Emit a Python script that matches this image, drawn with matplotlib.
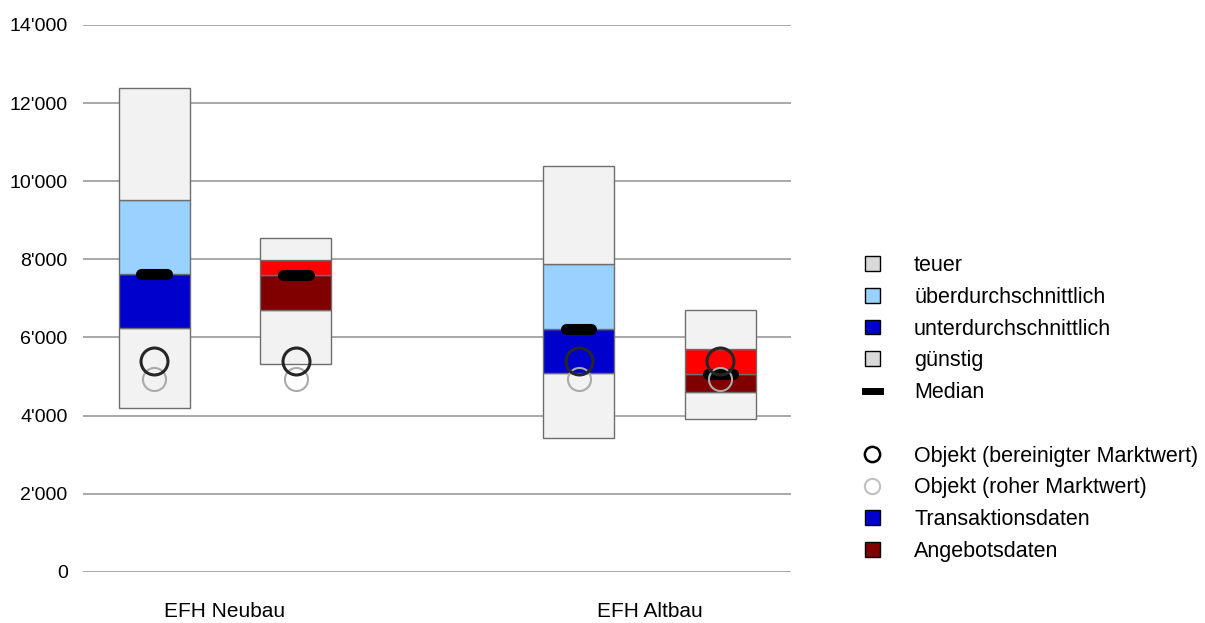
import matplotlib
matplotlib.use("Agg")
import matplotlib.pyplot as plt
from matplotlib.patches import Patch
from matplotlib.lines import Line2D
from matplotlib.ticker import FuncFormatter

plt.rcParams['font.family'] = ['Liberation Sans', 'DejaVu Sans']

categories = ["EFH Neubau", "EFH Altbau"]
# band limits: [günstig low, günstig/unter, unter/über, über/teuer, teuer top]
trans_bounds = [[4190, 6240, 7620, 9520, 12380],
                [3430, 5090, 6210, 7880, 10400]]
offer_bounds = [[5320, 6690, 7600, 7980, 8550],
                [3920, 4600, 5060, 5700, 6690]]
trans_median = [7620, 6210]
offer_median = [7590, 5060]
obj_adjusted = [5400, 5400]
obj_raw = [4930, 4930]

trans_colors = ["#f2f2f2", "#0000cc", "#99d1ff", "#f2f2f2"]
offer_colors = ["#f2f2f2", "#800000", "#ff0000", "#f2f2f2"]

fig = plt.figure(figsize=(12.05, 6.23), dpi=100)
ax = fig.add_axes([83 / 1205, 51.3 / 623, 708 / 1205, 546.7 / 623])

w = 0.167
off = 0.167
for i, cat in enumerate(categories):
    for xc, bounds, cols, med in [(i - off, trans_bounds[i], trans_colors, trans_median[i]),
                                  (i + off, offer_bounds[i], offer_colors, offer_median[i])]:
        for k in range(4):
            ax.bar(xc, bounds[k + 1] - bounds[k], bottom=bounds[k], width=w,
                   color=cols[k], edgecolor="#6e6e6e", linewidth=1, zorder=2)
        ax.plot([xc - 0.03, xc + 0.03], [med, med], color="black", lw=8,
                solid_capstyle="round", zorder=4)
        ax.plot(xc, obj_raw[i], marker="o", ms=16.6, mfc="none", mec="#aaaaaa",
                mew=1.5, zorder=5)
        ax.plot(xc, obj_adjusted[i], marker="o", ms=19.4, mfc="none", mec="#262626",
                mew=2.2, zorder=6)

ax.set_xlim(-0.3345, 1.3333)
ax.set_ylim(0, 14000)
ax.set_yticks(range(0, 14001, 2000))
ax.yaxis.set_major_formatter(FuncFormatter(lambda v, p: f"{int(v):,}".replace(",", "'")))
ax.set_xticks([0, 1])
ax.set_xticklabels(categories)
ax.tick_params(axis="both", length=0, colors="black")
ax.tick_params(axis="y", pad=11, labelsize=14)
ax.tick_params(axis="x", pad=22, labelsize=15)
ax.grid(axis="y", color="#999999", lw=1.2)
ax.set_axisbelow(True)
for s in ax.spines.values():
    s.set_visible(False)

handles = [
    Patch(facecolor="#d9d9d9", edgecolor="black", label="teuer"),
    Patch(facecolor="#99d1ff", edgecolor="black", label="überdurchschnittlich"),
    Patch(facecolor="#0000cc", edgecolor="black", label="unterdurchschnittlich"),
    Patch(facecolor="#d9d9d9", edgecolor="black", label="günstig"),
    Line2D([], [], color="black", lw=5, label="Median"),
    Line2D([], [], color="none", label=" "),
    Line2D([], [], ls="none", marker="o", ms=11, mfc="none", mec="black", mew=1.8,
           label="Objekt (bereinigter Marktwert)"),
    Line2D([], [], ls="none", marker="o", ms=11, mfc="none", mec="#c0c0c0", mew=1.5,
           label="Objekt (roher Marktwert)"),
    Patch(facecolor="#0000cc", edgecolor="black", label="Transaktionsdaten"),
    Patch(facecolor="#800000", edgecolor="black", label="Angebotsdaten"),
]
fig.legend(handles=handles, loc="upper left", bbox_to_anchor=(865 / 1205, 1 - 255 / 623),
           frameon=False, fontsize=15.5, handlelength=0.68, handleheight=0.68,
           handletextpad=1.6, labelspacing=0.5, borderpad=0, borderaxespad=0)

fig.savefig("out.png", dpi=100)
